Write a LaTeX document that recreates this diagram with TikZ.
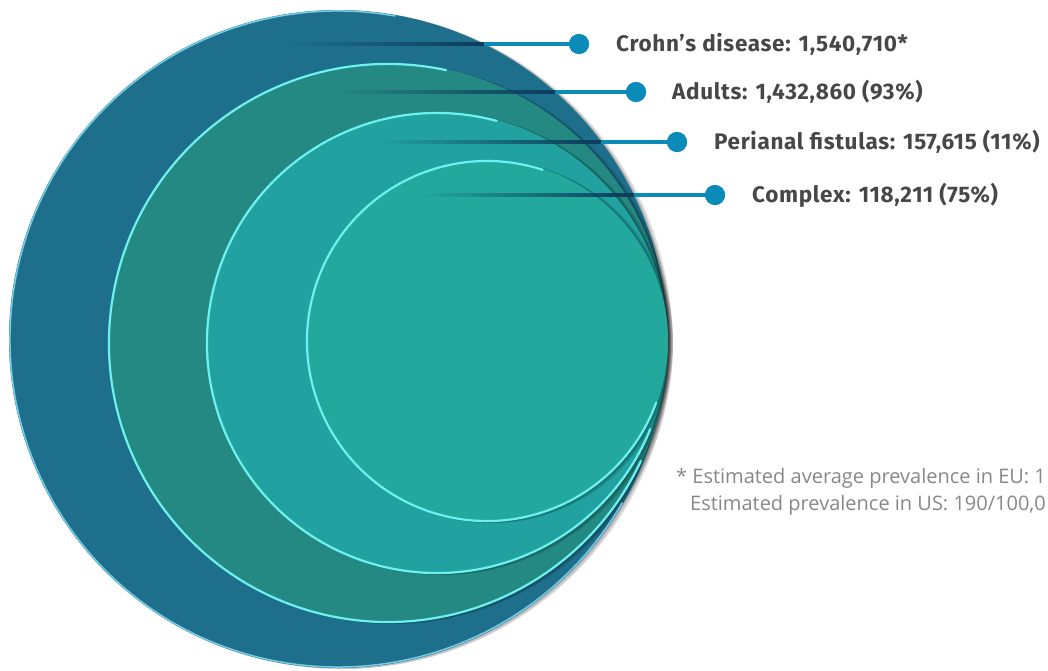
\documentclass[tikz,border=0pt]{standalone}
\usepackage{fontspec}
\setmainfont{Fira Sans}
\newfontfamily\notefont{Open Sans}
\usetikzlibrary{fadings}
\definecolor{cA}{RGB}{30,111,140}
\definecolor{cB}{RGB}{35,137,130}
\definecolor{cC}{RGB}{33,161,160}
\definecolor{cD}{RGB}{35,168,158}
\definecolor{rimA}{RGB}{120,205,230}
\definecolor{rim}{RGB}{110,240,238}
\definecolor{lineblue}{RGB}{10,139,184}
\definecolor{navy}{RGB}{12,60,92}
\definecolor{labelgray}{RGB}{71,71,71}
\definecolor{notegray}{RGB}{135,135,135}
\tikzfading[name=fadein, left color=transparent!100, middle color=transparent!25, right color=transparent!0]
\tikzset{
  shade1/.style={fill=black, opacity=0.12},
  rimline/.style={draw=rim, line width=2.2pt, line cap=round},
  inner/.style={draw=navy, line width=4pt, path fading=fadein},
  outer/.style={draw=lineblue, line width=4pt},
  dot/.style={circle, fill=lineblue, minimum size=20pt, inner sep=0pt},
  lab/.style={anchor=west, inner sep=0pt, text=labelgray, font=\fontsize{22.5}{26}\selectfont\bfseries\addfontfeature{LetterSpace=3}},
  note/.style={anchor=west, inner sep=0pt, text=notegray, font=\notefont\fontsize{20}{23}\selectfont}
}
\begin{document}
\begin{tikzpicture}[x=1pt,y=1pt]
\useasboundingbox (0,0) rectangle (1048,-670);
\clip (0,0) rectangle (1048,-670);
% circles with soft right shadows
\foreach \cx/\cy/\r/\col in {338/-339/329/cA, 388/-343/280/cB, 437/-343/231/cC, 487/-341/181/cD}{
  \fill[shade1] (\cx+5,\cy-1) circle[radius=\r];
  \fill[shade1] (\cx+3,\cy-1) circle[radius=\r];
  \fill[shade1] (\cx+1.5,\cy) circle[radius=\r];
  \fill[\col] (\cx,\cy) circle[radius=\r];
}
% rims
\draw[rimline, draw=rimA, line width=1.5pt] (338,-339) ++(80:328) arc[start angle=80, end angle=330, radius=328];
\draw[rimline] (388,-343) ++(78:279) arc[start angle=78, end angle=335, radius=279];
\draw[rimline] (437,-343) ++(75:230) arc[start angle=75, end angle=338, radius=230];
\draw[rimline] (487,-341) ++(72:180) arc[start angle=72, end angle=340, radius=180];
% connectors
\coordinate (s1) at (290,-44);  \coordinate (e1) at (484,-44);
\coordinate (s2) at (340,-92);  \coordinate (e2) at (555,-92);
\coordinate (s3) at (382,-142); \coordinate (e3) at (601,-142);
\coordinate (s4) at (422,-195); \coordinate (e4) at (634,-195);
\node[dot] (d1) at (579,-44) {};
\node[dot] (d2) at (636,-92) {};
\node[dot] (d3) at (677,-142) {};
\node[dot] (d4) at (715,-195) {};
\draw[outer] (e1) -- (d1.center);
\draw[outer] (e2) -- (d2.center);
\draw[outer] (e3) -- (d3.center);
\draw[outer] (e4) -- (d4.center);
\draw[inner] (s1) -- (e1);
\draw[inner] (s2) -- (e2);
\draw[inner] (s3) -- (e3);
\draw[inner] (s4) -- (e4);
\node[dot] at (d1) {};
\node[dot] at (d2) {};
\node[dot] at (d3) {};
\node[dot] at (d4) {};
% labels
\node[lab] (l1) at (616,-44) {Crohn’s disease: 1,540,710*};
\node[lab] (l2) at (672,-92) {Adults: 1,432,860 (93\%)};
\node[lab] (l3) at (714,-142) {Perianal fistulas: 157,615 (11\%)};
\node[lab] (l4) at (752,-195) {Complex: 118,211 (75\%)};
% footnote
\node[note] (n1) at (676,-478) {* Estimated average prevalence in EU: 1};
\node[note] (n2) at (690,-505) {Estimated prevalence in US: 190/100,0};
\end{tikzpicture}
\end{document}
